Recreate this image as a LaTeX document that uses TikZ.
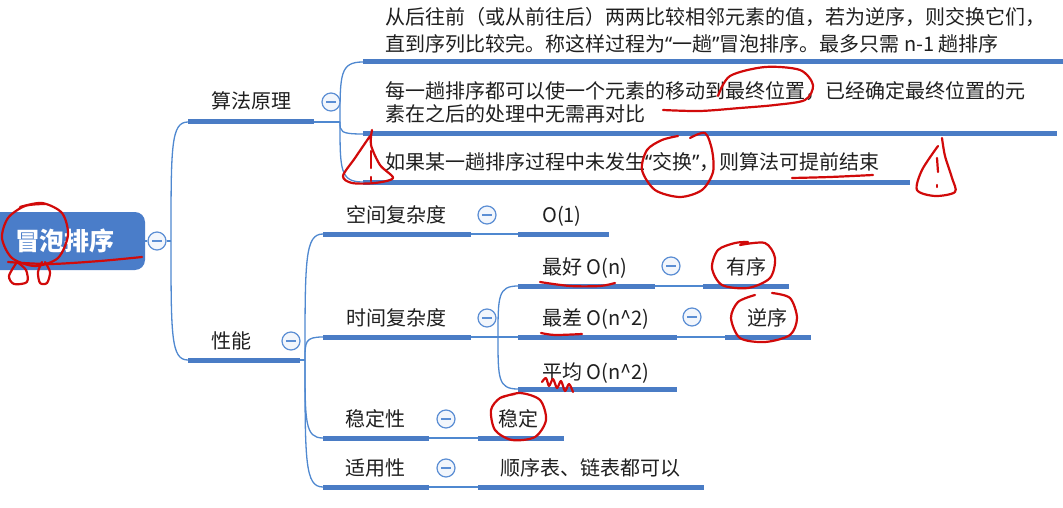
\documentclass[tikz,border=0pt]{standalone}
\usepackage{fontspec}
\setmainfont{Noto Sans CJK SC}
\newfontfamily\qfont{Noto Sans}
\usetikzlibrary{calc}
\definecolor{barblue}{HTML}{4A7CC5}
\definecolor{rootblue}{HTML}{4A7DC9}
\definecolor{thinblue}{HTML}{4F88D0}
\definecolor{foldblue}{HTML}{5B8ED4}
\definecolor{foldfill}{HTML}{F2F6FC}
\definecolor{txt}{HTML}{1F1F1F}
\definecolor{ink}{HTML}{D10A0A}
\tikzset{
  bar/.style={barblue, line width=5pt},
  thinline/.style={thinblue, line width=1.3pt},
  elbow/.style={to path={.. controls ($(\tikztostart)!0.8!(\tikztostart|-\tikztotarget)$) and (\tikztostart|-\tikztotarget) .. (\tikztotarget)}},
  lbl/.style={inner sep=0pt, text=txt, font=\fontsize{20}{27}\selectfont},
  fold/.style={circle, draw=foldblue, line width=1.2pt, fill=foldfill, minimum size=18pt, inner sep=0pt},
  rootbox/.style={rounded corners=10pt, fill=rootblue, minimum width=157pt, minimum height=58pt, inner sep=0pt},
  redink/.style={ink, line width=2.2pt, line cap=round, line join=round},
}
\newcommand{\foldminus}[1]{\draw[foldblue, line width=1.4pt] ([xshift=-5pt]#1.center) -- ([xshift=5pt]#1.center);}
\newcommand{\myopenq}{{\qfont “}}
\newcommand{\mycloseq}{{\qfont ”}}
\begin{document}
\begin{tikzpicture}[x=1pt, y=-1pt]
\useasboundingbox (0,0) rectangle (1063,508);
\fill[white] (0,0) rectangle (1063,508);

% ---------- coordinates ----------
\coordinate (T0) at (171,241);
\coordinate (sfL) at (188,122); \coordinate (sfR) at (314,122);
\coordinate (xnL) at (188,360); \coordinate (xnR) at (300,360);
\coordinate (T1) at (340,122);
\coordinate (c1L) at (363,62);  \coordinate (c1R) at (1070,62);
\coordinate (c2L) at (363,134); \coordinate (c2R) at (1057,134);
\coordinate (c3L) at (363,182); \coordinate (c3R) at (910,182);
\coordinate (T2) at (305,360);
\coordinate (kjL) at (323,234); \coordinate (kjR) at (471,234);
\coordinate (sjL) at (323,337); \coordinate (sjR) at (471,337);
\coordinate (wdL) at (323,438); \coordinate (wdR) at (429,438);
\coordinate (syL) at (323,487); \coordinate (syR) at (429,487);
\coordinate (o1L) at (518,234); \coordinate (o1R) at (609,234);
\coordinate (T3) at (498,337);
\coordinate (bsL) at (518,286); \coordinate (bsR) at (655,286);
\coordinate (wsL) at (518,337); \coordinate (wsR) at (677,337);
\coordinate (avL) at (518,389); \coordinate (avR) at (677,389);
\coordinate (yxL) at (703,286); \coordinate (yxR) at (789,286);
\coordinate (nxL) at (725,337); \coordinate (nxR) at (811,337);
\coordinate (wvL) at (478,438); \coordinate (wvR) at (564,438);
\coordinate (svL) at (478,487); \coordinate (svR) at (704,487);

% ---------- root ----------
\node[rootbox] (root) at (66.5,241) {};
\node[inner sep=0pt, text=white, font=\fontsize{25}{30}\selectfont\bfseries, anchor=base] (roottxt) at (65,250) {冒泡排序};
\node[fold] (f0) at (157,241) {};

% ---------- thin connectors ----------
\draw[thinline] (root.east) -- (f0);
\draw[thinline] (f0) -- (T0);
\draw[thinline] (T0) to[elbow] (sfL);
\draw[thinline] (T0) to[elbow] (xnL);
\draw[thinline] (sfR) -- (T1);
\draw[thinline] (T1) to[elbow] (c1L);
\draw[thinline] (T1) to[elbow] (c2L);
\draw[thinline] (T1) to[elbow] (c3L);
\draw[thinline] (xnR) -- (T2);
\draw[thinline] (T2) to[elbow] (kjL);
\draw[thinline] (T2) to[elbow] (sjL);
\draw[thinline] (T2) to[elbow] (wdL);
\draw[thinline] (T2) to[elbow] (syL);
\draw[thinline] (kjR) -- (o1L);
\draw[thinline] (sjR) -- (T3);
\draw[thinline] (T3) to[elbow] (bsL);
\draw[thinline] (T3) to[elbow] (wsL);
\draw[thinline] (T3) to[elbow] (avL);
\draw[thinline] (bsR) -- (yxL);
\draw[thinline] (wsR) -- (nxL);
\draw[thinline] (wdR) -- (wvL);
\draw[thinline] (syR) -- (svL);

% ---------- underline bars ----------
\foreach \a/\b in {sfL/sfR, xnL/xnR, c1L/c1R, c2L/c2R, c3L/c3R, kjL/kjR, sjL/sjR, wdL/wdR, syL/syR,
  o1L/o1R, bsL/bsR, wsL/wsR, avL/avR, yxL/yxR, nxL/nxR, wvL/wvR, svL/svR}
  \draw[bar] (\a) -- (\b);

% ---------- fold circles ----------
\node[fold] (f1) at (331,102) {};
\node[fold] (f2) at (291,341) {};
\node[fold] (f3) at (487,215) {};
\node[fold] (f4) at (487,318) {};
\node[fold] (f5) at (671,266) {};
\node[fold] (f6) at (692,317) {};
\node[fold] (f7) at (446,419) {};
\node[fold] (f8) at (446,468) {};
\foldminus{f0}\foldminus{f1}\foldminus{f2}\foldminus{f3}\foldminus{f4}
\foldminus{f5}\foldminus{f6}\foldminus{f7}\foldminus{f8}

% ---------- labels ----------
\node[lbl, anchor=base] (sf) at (251,109) {算法原理};
\node[lbl, anchor=base] (xn) at (231,348) {性能};
\node[lbl, anchor=base west] (p1a) at (385,25) {从后往前（或从前往后）两两比较相邻元素的值，若为逆序，则交换它们，};
\node[lbl, anchor=base west] (p1b) at (385,52) {直到序列比较完。称这样过程为\myopenq 一趟\mycloseq 冒泡排序。最多只需 n-1 趟排序};
\node[lbl, anchor=base west] (p2a) at (385,99) {每一趟排序都可以使一个元素的移动到最终位置，已经确定最终位置的元};
\node[lbl, anchor=base west] (p2b) at (385,122) {素在之后的处理中无需再对比};
\node[lbl, anchor=base west] (p3) at (385,169) {如果某一趟排序过程中未发生\myopenq 交换\mycloseq ，则算法可提前结束};
\node[lbl, anchor=base] (kj) at (396,222) {空间复杂度};
\node[lbl, anchor=base] (sj) at (396,325) {时间复杂度};
\node[lbl, anchor=base] (wd) at (375,426) {稳定性};
\node[lbl, anchor=base] (sy) at (375,475) {适用性};
\node[lbl, anchor=base] (o1) at (562,222) {O(1)};
\node[lbl, anchor=base west] (bs) at (542,274) {最好 O(n)};
\node[lbl, anchor=base west] (ws) at (542,325) {最差 O(n\^{}2)};
\node[lbl, anchor=base west] (av) at (542,379) {平均 O(n\^{}2)};
\node[lbl, anchor=base] (yx) at (746,274) {有序};
\node[lbl, anchor=base] (nx) at (767,325) {逆序};
\node[lbl, anchor=base] (wv) at (518,426) {稳定};
\node[lbl, anchor=base west] (sv) at (500,475) {顺序表、链表都可以};

% ---------- red handwritten marks ----------
\draw[redink] plot[smooth] coordinates {(20,207) (42,203) (62,213) (68,235) (58,258) (35,266) (12,258) (2,238) (8,218) (25,206) (45,204)};
\draw[redink] plot[smooth] coordinates {(8,262) (50,264) (100,261) (142,257)};
\draw[redink] plot[smooth] coordinates {(17,262) (9,276) (14,284) (27,282) (26,270) (17,262)};
\draw[redink] plot[smooth] coordinates {(42,262) (38,272) (40,283) (47,283) (50,272) (45,262)};
\draw[redink] plot[smooth] coordinates {(718,96) (730,76) (765,67) (800,70) (813,85) (805,100) (775,105) (740,108) (700,111) (663,110)};
\draw[redink] plot[smooth] coordinates {(372,130) (371,145) (380,165) (393,178) (375,183) (352,183) (343,176) (355,158) (370,136)};
\draw[redink] (371,151) -- (371,168);
\draw[redink] (371,177) -- (371,181);
\draw[redink] plot[smooth] coordinates {(690,138) (705,133) (712,150) (713,172) (702,190) (680,197) (655,190) (642,170) (647,150) (662,140) (678,136)};
\draw[redink] plot[smooth] coordinates {(792,178) (830,177) (873,175)};
\draw[redink] plot[smooth] coordinates {(942,138) (945,156) (952,178) (955,192) (935,196) (917,190) (922,170) (938,146)};
\draw[redink] (937,158) -- (938,172);
\draw[redink] (937,185) -- (937,187);
\draw[redink] plot[smooth] coordinates {(540,282) (570,286) (600,286) (615,283)};
\draw[redink] plot[smooth] coordinates {(740,245) (765,243) (775,258) (770,278) (748,288) (722,285) (712,268) (718,250) (735,243) (748,242)};
\draw[redink] plot[smooth] coordinates {(541,333) (555,335) (582,334)};
\draw[redink] plot[smooth] coordinates {(772,293) (790,298) (797,318) (790,335) (765,342) (740,338) (731,318) (738,302) (755,295)};
\draw[redink] plot[smooth] coordinates {(542,382) (546,378) (549,386) (553,379) (557,388) (561,381) (565,391) (569,384) (573,392)};
\draw[redink] plot[smooth] coordinates {(500,398) (520,393) (540,400) (546,420) (535,437) (512,440) (495,430) (491,410) (500,398) (515,394)};
\end{tikzpicture}
\end{document}
